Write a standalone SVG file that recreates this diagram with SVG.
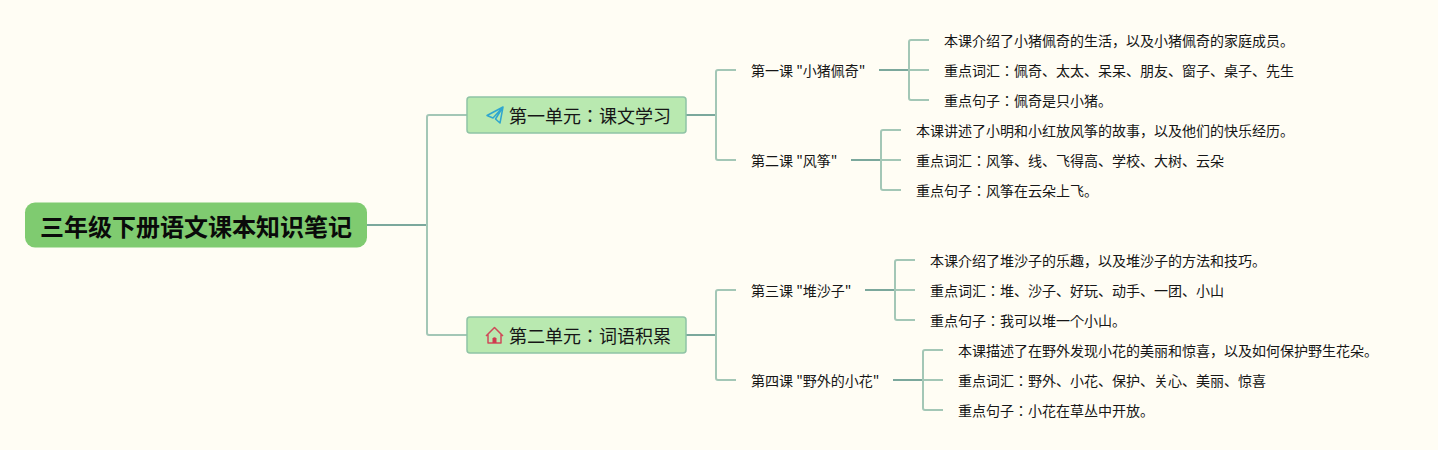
<svg xmlns="http://www.w3.org/2000/svg" width="1438" height="450" viewBox="0 0 1438 450">
<style>
text{font-family:"Noto Sans CJK JP","Noto Sans",sans-serif;fill:#161616;dominant-baseline:central}
.l{font-size:14px}
.u{font-size:18px}
.r{font-size:24px;font-weight:700;fill:#0a0a0a}
.c{fill:none;stroke:#a3c7b6;stroke-width:2}
.d{fill:none;stroke:#7ba89c;stroke-width:2}
</style>
<rect width="1438" height="450" fill="#fffdf4"/>
<g id="connectors">
<path class="d" d="M367 225H427"/>
<path class="c" d="M467 115H429Q427 115 427 117V333Q427 335 429 335H467"/>
<path class="d" d="M686 115H716"/>
<path class="c" d="M736 70H718Q716 70 716 72V158Q716 160 718 160H736"/>
<path class="d" d="M686 335H716"/>
<path class="c" d="M736 290H718Q716 290 716 292V378Q716 380 718 380H736"/>
<path class="d" d="M879 70H909"/>
<path class="c" d="M929 40H911Q909 40 909 42V98Q909 100 911 100H929M909 70H929"/>
<path class="d" d="M851 160H881"/>
<path class="c" d="M901 130H883Q881 130 881 132V188Q881 190 883 190H901M881 160H901"/>
<path class="d" d="M865 290H895"/>
<path class="c" d="M915 260H897Q895 260 895 262V318Q895 320 897 320H915M895 290H915"/>
<path class="d" d="M893 380H923"/>
<path class="c" d="M943 350H925Q923 350 923 352V408Q923 410 925 410H943M923 380H943"/>
</g>
<g id="root"><rect x="25" y="202.500" width="342" height="45" rx="10" fill="#7fcb70"/><text class="r" x="40" y="225">三年级下册语文课本知识笔记</text></g>
<g id="unit1"><rect x="467" y="97" width="219" height="36" rx="3" fill="#b9e9b0" stroke="#8fc3a5" stroke-width="1.500"/>
<path d="M503 107L487 115.500L493 118L503 107L495.500 119L500 123Z" fill="none" stroke="#2fa6cf" stroke-width="1.500" stroke-linejoin="round"/>
<text class="u" x="509" y="115">第一单元：课文学习</text></g>
<g id="unit2"><rect x="467" y="317" width="219" height="36" rx="3" fill="#b9e9b0" stroke="#8fc3a5" stroke-width="1.500"/>
<path d="M486 336L494.500 327.500L503 336M488 334V343H501V334" fill="none" stroke="#cf4b59" stroke-width="1.500" stroke-linejoin="round"/><path d="M492.500 343V338.500Q494.500 336 496.500 338.500V343Z" fill="#cf3b4f"/>
<text class="u" x="509" y="335">第二单元：词语积累</text></g>
<g id="lesson1"><text class="l" x="751" y="70">第一课 "小猪佩奇"</text></g>
<g id="lesson2"><text class="l" x="751" y="160">第二课 "风筝"</text></g>
<g id="lesson3"><text class="l" x="751" y="290">第三课 "堆沙子"</text></g>
<g id="lesson4"><text class="l" x="751" y="380">第四课 "野外的小花"</text></g>
<g id="n1a"><text class="l" x="944" y="40">本课介绍了小猪佩奇的生活，以及小猪佩奇的家庭成员。</text></g>
<g id="n1b"><text class="l" x="944" y="70">重点词汇：佩奇、太太、呆呆、朋友、窗子、桌子、先生</text></g>
<g id="n1c"><text class="l" x="944" y="100">重点句子：佩奇是只小猪。</text></g>
<g id="n2a"><text class="l" x="916" y="130">本课讲述了小明和小红放风筝的故事，以及他们的快乐经历。</text></g>
<g id="n2b"><text class="l" x="916" y="160">重点词汇：风筝、线、飞得高、学校、大树、云朵</text></g>
<g id="n2c"><text class="l" x="916" y="190">重点句子：风筝在云朵上飞。</text></g>
<g id="n3a"><text class="l" x="930" y="260">本课介绍了堆沙子的乐趣，以及堆沙子的方法和技巧。</text></g>
<g id="n3b"><text class="l" x="930" y="290">重点词汇：堆、沙子、好玩、动手、一团、小山</text></g>
<g id="n3c"><text class="l" x="930" y="320">重点句子：我可以堆一个小山。</text></g>
<g id="n4a"><text class="l" x="958" y="350">本课描述了在野外发现小花的美丽和惊喜，以及如何保护野生花朵。</text></g>
<g id="n4b"><text class="l" x="958" y="380">重点词汇：野外、小花、保护、关心、美丽、惊喜</text></g>
<g id="n4c"><text class="l" x="958" y="410">重点句子：小花在草丛中开放。</text></g>
</svg>
